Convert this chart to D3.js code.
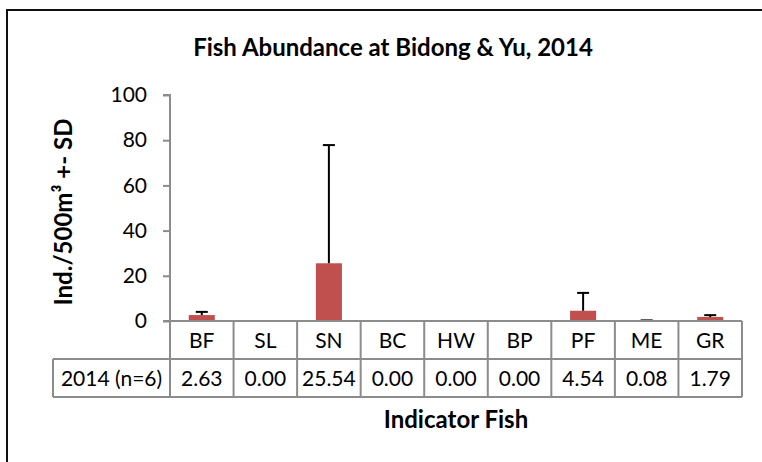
<!DOCTYPE html>
<html>
<head>
<meta charset="utf-8">
<script src="https://cdn.jsdelivr.net/npm/d3@7"></script>
<style>
  body { margin: 0; background: #fff; }
  text { font-family: Lato, "Open Sans", sans-serif; fill: #000; }
</style>
</head>
<body>
<div id="chart"></div>
<script>
// Chart data
const categories = ["BF", "SL", "SN", "BC", "HW", "BP", "PF", "ME", "GR"];
const means = [2.63, 0.00, 25.54, 0.00, 0.00, 0.00, 4.54, 0.08, 1.79];
const sds = [1.4, 0, 52.3, 0, 0, 0, 7.9, 0.2, 0.8];
const yTicks = [0, 20, 40, 60, 80, 100];
const rowLabel = "2014 (n=6)";

const width = 762;
const height = 462;
const plot = { left: 170, right: 742, top: 95, bottom: 321 };
const rowH = 38;
const labelLeft = 53;
const lineColor = "#8c8c8c";

const svg = d3.select("#chart")
    .append("svg")
    .attr("width", width)
    .attr("height", height);

// Outer chart border (runs off the right and bottom edges)
svg.append("rect")
    .attr("x", 7)
    .attr("y", 10)
    .attr("width", 800)
    .attr("height", 500)
    .attr("fill", "none")
    .attr("stroke", "#111")
    .attr("stroke-width", 2);

// Scales
const xScale = d3.scaleBand()
    .domain(categories)
    .range([plot.left, plot.right])
    .padding(0);

const yScale = d3.scaleLinear()
    .domain([0, 100])
    .range([plot.bottom, plot.top]);

// Y axis
const yAxis = d3.axisLeft(yScale)
    .tickValues(yTicks)
    .tickSize(7)
    .tickPadding(16);

const yG = svg.append("g")
    .attr("transform", `translate(${plot.left},0)`)
    .call(yAxis);
yG.select(".domain").attr("stroke", lineColor).attr("stroke-width", 2).attr("d", `M-7,${plot.top}H0V${plot.bottom}`);
yG.selectAll(".tick line").attr("stroke", lineColor).attr("stroke-width", 2);
yG.selectAll(".tick text")
    .attr("font-size", "21px")
    .attr("font-family", "Lato, sans-serif")
    .attr("fill", "#000");

// Bars
const barW = xScale.bandwidth() * 0.41;
svg.selectAll(".bar")
    .data(categories)
    .enter()
    .append("rect")
    .attr("class", "bar")
    .attr("x", d => xScale(d) + (xScale.bandwidth() - barW) / 2)
    .attr("y", (d, i) => yScale(means[i]))
    .attr("width", barW)
    .attr("height", (d, i) => yScale(0) - yScale(means[i]))
    .attr("fill", "#c0504d");

// Error bars (upper only)
const capW = 12;
categories.forEach((c, i) => {
    if (sds[i] <= 0) return;
    const cx = xScale(c) + xScale.bandwidth() / 2;
    svg.append("line")
        .attr("x1", cx).attr("x2", cx)
        .attr("y1", yScale(means[i]))
        .attr("y2", yScale(means[i] + sds[i]))
        .attr("stroke", "#000")
        .attr("stroke-width", 2);
    svg.append("line")
        .attr("x1", cx - capW / 2).attr("x2", cx + capW / 2)
        .attr("y1", yScale(means[i] + sds[i]))
        .attr("y2", yScale(means[i] + sds[i]))
        .attr("stroke", "#000")
        .attr("stroke-width", 2);
});

// Data table under the axis
const table = svg.append("g").attr("stroke", lineColor).attr("stroke-width", 2);
const r0 = plot.bottom, r1 = plot.bottom + rowH, r2 = plot.bottom + 2 * rowH;
table.append("line").attr("x1", plot.left - 7).attr("x2", plot.right).attr("y1", r0).attr("y2", r0);
table.append("line").attr("x1", labelLeft).attr("x2", plot.right).attr("y1", r1).attr("y2", r1);
table.append("line").attr("x1", labelLeft).attr("x2", plot.right).attr("y1", r2).attr("y2", r2);
table.append("line").attr("x1", labelLeft).attr("x2", labelLeft).attr("y1", r1).attr("y2", r2);
categories.concat([null]).forEach(c => {
    const x = c === null ? plot.right : xScale(c);
    table.append("line").attr("x1", x).attr("x2", x).attr("y1", r0).attr("y2", r2);
});

// Category names
svg.selectAll(".cat")
    .data(categories)
    .enter()
    .append("text")
    .attr("class", "cat")
    .attr("x", d => xScale(d) + xScale.bandwidth() / 2)
    .attr("y", (r0 + r1) / 2)
    .attr("dy", "0.36em")
    .attr("text-anchor", "middle")
    .attr("font-size", "21px")
    .text(d => d);

// Values row
svg.append("text")
    .attr("x", (labelLeft + plot.left) / 2)
    .attr("y", (r1 + r2) / 2)
    .attr("dy", "0.36em")
    .attr("text-anchor", "middle")
    .attr("font-size", "21px")
    .text(rowLabel);

svg.selectAll(".val")
    .data(categories)
    .enter()
    .append("text")
    .attr("class", "val")
    .attr("x", d => xScale(d) + xScale.bandwidth() / 2)
    .attr("y", (r1 + r2) / 2)
    .attr("dy", "0.36em")
    .attr("text-anchor", "middle")
    .attr("font-size", "21px")
    .text((d, i) => means[i].toFixed(2));

// Chart title
svg.append("text")
    .attr("x", 393)
    .attr("y", 47)
    .attr("dy", "0.36em")
    .attr("text-anchor", "middle")
    .attr("font-size", "24px")
    .attr("font-weight", "bold")
    .text("Fish Abundance at Bidong & Yu, 2014");

// Y axis title
svg.append("text")
    .attr("transform", `translate(63,${(plot.top + plot.bottom) / 2 + 4}) rotate(-90)`)
    .attr("dy", "0.36em")
    .attr("text-anchor", "middle")
    .attr("font-size", "24px")
    .attr("font-weight", "bold")
    .text("Ind./500m³ +- SD");

// X axis title
svg.append("text")
    .attr("x", (plot.left + plot.right) / 2)
    .attr("y", 419)
    .attr("dy", "0.36em")
    .attr("text-anchor", "middle")
    .attr("font-size", "24px")
    .attr("font-weight", "bold")
    .text("Indicator Fish");
</script>
</body>
</html>
